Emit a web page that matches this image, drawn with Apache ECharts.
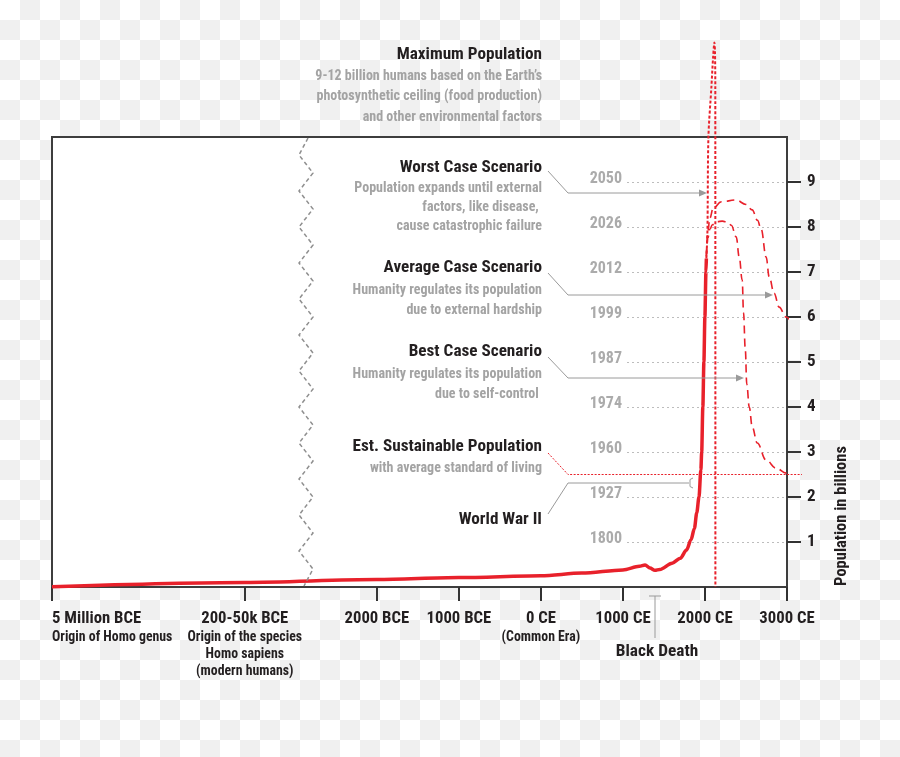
<!DOCTYPE html>
<html><head><meta charset="utf-8">
<script src="https://cdn.jsdelivr.net/npm/echarts@6/dist/echarts.min.js"></script>
<style>
html,body{margin:0;padding:0;width:900px;height:757px;overflow:hidden;background-color:#fff;
background-image:conic-gradient(#f0f0f0 0 25%,#fff 0 50%,#f0f0f0 0 75%,#fff 0 100%);
background-size:40px 40px;background-position:0 0;}
#c{width:900px;height:757px;}
</style></head><body><div id="c"></div>
<script>
const FONT = "'Liberation Sans Narrow','Arial Narrow','Roboto Condensed','DejaVu Sans Condensed',sans-serif";

// ---- data ----
const xTickYears = [-5000000, -125000, -2000, -1000, 0, 1000, 2000, 3000];
const xTickTitles = ['5 Million BCE', '200-50k BCE', '2000 BCE', '1000 BCE', '0 CE', '1000 CE', '2000 CE', '3000 CE'];
const xTickSubs = [['Origin of Homo genus'], ['Origin of the species', 'Homo sapiens', '(modern humans)'], [], [], ['(Common Era)'], [], [], []];
const popTicks = [1, 2, 3, 4, 5, 6, 7, 8, 9];
const milestoneYears = ['1800', '1927', '1960', '1974', '1987', '1999', '2012', '2026', '2050'];

const histYears = [-5000000, -125000, -2000, -1000, 0, 500, 1000, 1200, 1270, 1330, 1390, 1450, 1600, 1700, 1775, 1830, 1871, 1900, 1927, 1950, 1960, 1974, 1987, 1999, 2012, 2017];
const histPop   = [0.007, 0.1, 0.165, 0.21, 0.25, 0.31, 0.38, 0.46, 0.49, 0.42, 0.37, 0.39, 0.53, 0.64, 0.82, 1.05, 1.3, 1.65, 2.0, 2.6, 3.0, 4.0, 5.0, 6.0, 7.0, 7.3];

const worstYears = [2017, 2030, 2042, 2078, 2100, 2115, 2122, 2126, 2127];
const worstPop   = [7.3, 7.9, 10.0, 11.1, 11.8, 12.1, 11.9, 11.2, 0];

const averageYears = [2017, 2035, 2060, 2100, 2200, 2380, 2500, 2576, 2640, 2685, 2746, 2783, 2843, 2904, 2989, 3111, 3171];
const averagePop   = [7.35, 7.9, 8.2, 8.42, 8.56, 8.6, 8.5, 8.38, 8.15, 7.95, 7.33, 6.89, 6.53, 6.22, 6.0, 5.78, 5.71];

const bestYears = [2017, 2035, 2060, 2090, 2150, 2211, 2280, 2321, 2381, 2418, 2454, 2470, 2491, 2510, 2540, 2576, 2637, 2746, 2868, 2990, 3171];
const bestPop   = [7.35, 7.75, 7.95, 8.05, 8.12, 8.13, 8.1, 8.04, 7.78, 7.33, 6.82, 6.1, 5.3, 4.5, 4.0, 3.56, 3.2, 2.82, 2.64, 2.53, 2.47];

const sustainablePop = 2.5;

// ---- broken time scale: linear (1 unit = 1000 yrs) after 2000 BCE, compressed before ----
const breakYears = [-5000000, -125000, -2000];
const breakAxis = [-5.96, -3.61, -2];
function yearToAxis(y) {
  if (y >= breakYears[2]) return y / 1000;
  let i = y <= breakYears[1] ? 0 : 1;
  const t = (y - breakYears[i]) / (breakYears[i + 1] - breakYears[i]);
  return breakAxis[i] + t * (breakAxis[i + 1] - breakAxis[i]);
}
const toSeries = (ys, ps) => ys.map((y, i) => [yearToAxis(y), ps[i]]);
const xTickAxis = xTickYears.map(yearToAxis);

const RED = '#e8212b';
const DARK = '#231f20';
const GRAY = '#a3a3a3';

// ---- annotations (layout) ----
const notes = [
  { title: 'Maximum Population', y: 55, subs: ['9-12 billion humans based on the Earth\u2019s', 'photosynthetic ceiling (food production)', 'and other environmental factors'], sy: 76, gap: 20.5 },
  { title: 'Worst Case Scenario', y: 168, subs: ['Population expands until external', 'factors, like disease, ', 'cause catastrophic failure'], sy: 188, gap: 19 },
  { title: 'Average Case Scenario', y: 268, subs: ['Humanity regulates its population', 'due to external hardship'], sy: 290, gap: 20 },
  { title: 'Best Case Scenario', y: 352, subs: ['Humanity regulates its population', 'due to self-control '], sy: 374, gap: 20 },
  { title: 'Est. Sustainable Population', y: 447, subs: ['with average standard of living'], sy: 468, gap: 20 },
  { title: 'World War II', y: 520, subs: [], sy: 0, gap: 0 }
];

function txt(x, y, text, size, color, align) {
  return { type: 'text', silent: true, z: 10,
    style: { x: x, y: y, text: text, fill: color, font: 'bold ' + size + 'px ' + FONT, align: align || 'right', verticalAlign: 'middle' } };
}
function pline(points, stroke, dash, w) {
  return { type: 'polyline', silent: true, z: 10, shape: { points: points },
    style: { stroke: stroke, lineWidth: w || 1, fill: null, lineDash: dash || null } };
}
function arrow(x, y) {
  return { type: 'polygon', silent: true, z: 10, shape: { points: [[x, y], [x - 8, y - 3.5], [x - 8, y + 3.5]] }, style: { fill: '#9a9a9a' } };
}

const graphics = [];
notes.forEach(n => {
  graphics.push(txt(542, n.y, n.title, 17.2, DARK));
  n.subs.forEach((s, i) => graphics.push(txt(542, n.sy + i * n.gap, s, 14, GRAY)));
});
// connectors
graphics.push(pline([[548, 171], [568, 193], [700, 193]], '#9a9a9a'), arrow(707, 193));
graphics.push(pline([[548, 273], [568, 295], [766, 295]], '#9a9a9a'), arrow(773, 295));
graphics.push(pline([[548, 357], [568, 378], [737, 378]], '#9a9a9a'), arrow(744, 378));
graphics.push(pline([[548, 453], [568, 474.5], [802, 474.5]], RED, [2, 1.5], 1));
graphics.push(pline([[548, 514], [568, 483], [689, 483]], '#9a9a9a'));
graphics.push(pline([[693, 478], [690, 479.5], [690, 486.5], [693, 488]], '#9a9a9a'));
// Black Death marker
graphics.push(pline([[649, 596], [661, 596]], '#9a9a9a'));
graphics.push(pline([[655, 596], [655, 638]], '#9a9a9a'));
graphics.push(txt(657, 652, 'Black Death', 17.3, DARK, 'center'));
// axis name
graphics.push({ type: 'text', silent: true, x: 842, y: 516, rotation: Math.PI / 2,
  style: { text: 'Population in billions', fill: DARK, font: 'bold 16.5px ' + FONT, align: 'center', verticalAlign: 'middle' } });
// axis-break zigzag
const zz = [[308, 138]];
for (let k = 0; k <= 23; k++) zz.push([k % 2 === 0 ? 299 : 313, 155 + 18 * k]);
zz.push([304, 586]);
graphics.push(pline(zz, '#8f8f8f', [4, 3], 1.5));

const chart = echarts.init(document.getElementById('c'), null, { renderer: 'canvas' });
chart.setOption({
  backgroundColor: 'transparent',
  animation: false,
  grid: { left: 52, right: 113, top: 137, bottom: 170, show: true, backgroundColor: '#fff', borderColor: '#3d3d3d', borderWidth: 2 },
  xAxis: {
    type: 'value', min: breakAxis[0], max: 3,
    axisLine: { show: false, onZero: false }, splitLine: { show: false },
    axisTick: { show: true, length: 14, customValues: xTickAxis, lineStyle: { color: '#333', width: 2 } },
    axisLabel: {
      customValues: xTickAxis, margin: 22, alignMinLabel: 'left',
      formatter: function (v) {
        let i = xTickAxis.findIndex(a => Math.abs(a - v) < 1e-6);
        if (i < 0) return '';
        let s = '{b|' + xTickTitles[i] + '}';
        xTickSubs[i].forEach(t => { s += '\n{s|' + t + '}'; });
        return s;
      },
      rich: {
        b: { fontSize: 16.7, fontWeight: 'bold', color: DARK, fontFamily: FONT, lineHeight: 20 },
        s: { fontSize: 13.8, fontWeight: 'bold', color: DARK, fontFamily: FONT, lineHeight: 17 }
      }
    }
  },
  yAxis: [
    {
      type: 'value', position: 'right', min: 0, max: 10, interval: 1,
      axisLine: { show: false, onZero: false }, splitLine: { show: false },
      axisTick: { show: true, length: 14, customValues: popTicks, lineStyle: { color: '#333', width: 2 } },
      axisLabel: { customValues: popTicks, margin: 20, color: DARK, fontSize: 17, fontWeight: 'bold', fontFamily: FONT }
    },
    {
      type: 'value', position: 'left', offset: -575, min: 0, max: 10, interval: 1,
      axisLine: { show: false, onZero: false }, splitLine: { show: false },
      axisTick: { show: true, inside: true, length: 160, customValues: popTicks, lineStyle: { color: '#bdbdbd', width: 1, type: [2, 3] } },
      axisLabel: { customValues: popTicks, margin: 5, color: '#ababab', fontSize: 16, fontWeight: 'bold', fontFamily: FONT,
        verticalAlign: 'bottom', lineHeight: 6, formatter: v => milestoneYears[v - 1] || '' }
    }
  ],
  series: [
    { name: 'History', type: 'line', data: toSeries(histYears, histPop), smooth: 0.3, smoothMonotone: 'x', showSymbol: false, clip: false, z: 5,
      lineStyle: { color: RED, width: 3.5 } },
    { name: 'Worst', type: 'line', data: toSeries(worstYears, worstPop), smooth: 0.3, showSymbol: false, clip: false, z: 4,
      lineStyle: { color: RED, width: 2, type: [3, 2] } },
    { name: 'Average', type: 'line', data: toSeries(averageYears, averagePop), smooth: 0.4, smoothMonotone: 'x', showSymbol: false, clip: false, z: 4,
      lineStyle: { color: RED, width: 1.6, type: [8, 5] } },
    { name: 'Best', type: 'line', data: toSeries(bestYears, bestPop), smooth: 0.4, smoothMonotone: 'x', showSymbol: false, clip: false, z: 4,
      lineStyle: { color: RED, width: 1.6, type: [8, 5] } }
  ],
  graphic: graphics
});
</script></body></html>
